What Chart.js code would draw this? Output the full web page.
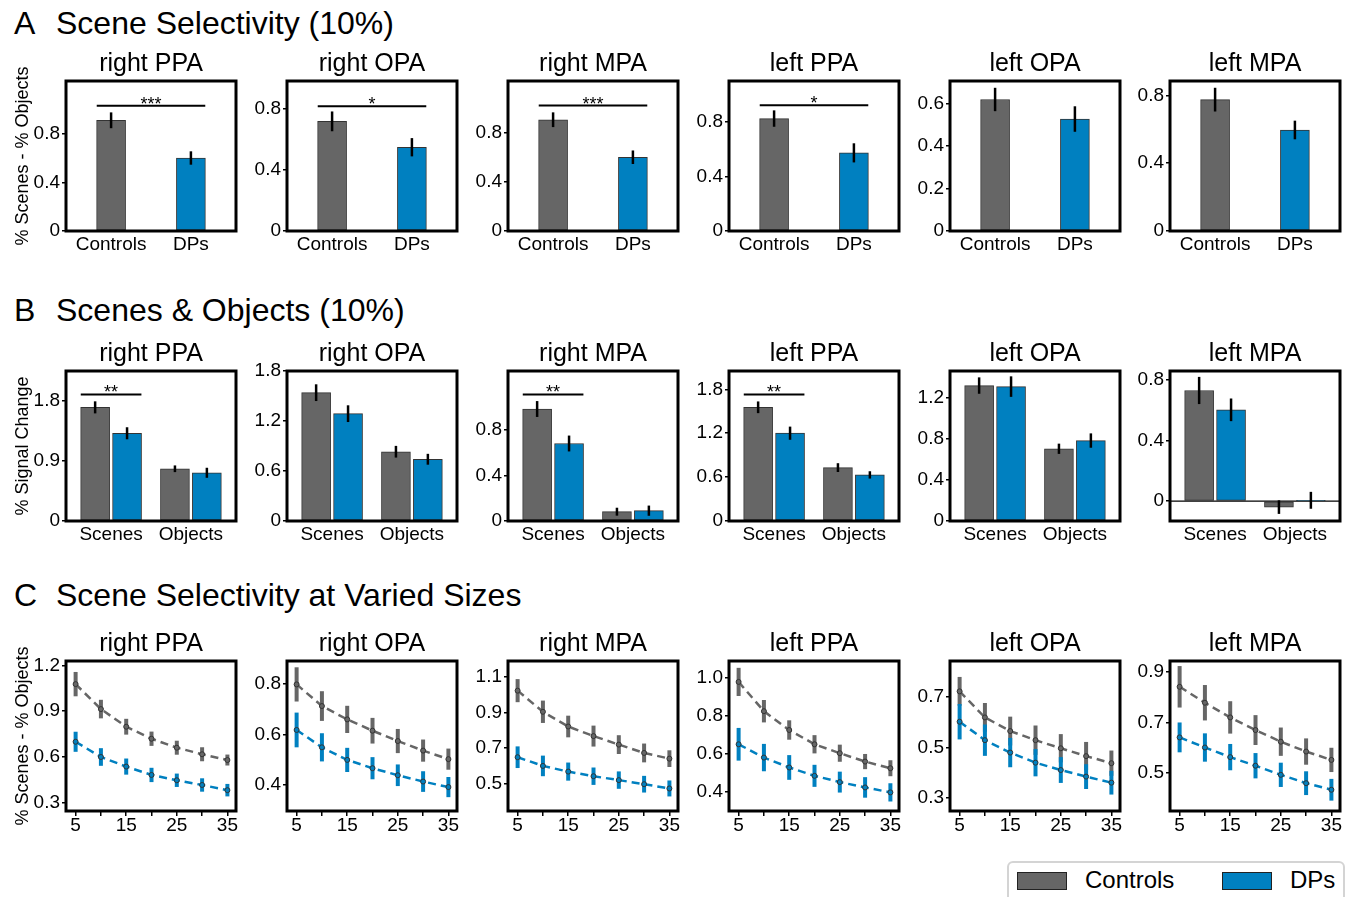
<!DOCTYPE html>
<html>
<head>
<meta charset="utf-8">
<script src="https://cdn.jsdelivr.net/npm/chart.js@4.4.0/dist/chart.umd.min.js"></script>
<style>
    body { margin: 0; background: #fff; width: 1350px; height: 897px; position: relative; overflow: hidden; font-family: "Liberation Sans", Arial, sans-serif; color: #000; }
    canvas { position: absolute; }
    .head { position: absolute; font-size: 32px; line-height: 32px; white-space: nowrap; }
    .ylab { position: absolute; width: 240px; height: 20px; font-size: 18px; line-height: 20px; text-align: center; white-space: nowrap; transform: rotate(-90deg); z-index: 2; }
    #legend { position: absolute; left: 1007px; top: 861px; width: 338px; height: 46px; border: 2px solid #d4d4d4; border-radius: 6px; box-sizing: border-box; }
    .sw { position: absolute; top: 9px; width: 48px; height: 16px; border: 1px solid #222; }
    .lt { position: absolute; top: 4px; font-size: 24px; line-height: 26px; }
</style>
</head>
<body>

<div class="head" style="left:14px;top:7px;">A</div>
<div class="head" style="left:56px;top:7px;">Scene Selectivity (10%)</div>
<div class="head" style="left:14px;top:294px;">B</div>
<div class="head" style="left:56px;top:294px;">Scenes &amp; Objects (10%)</div>
<div class="head" style="left:14px;top:579px;">C</div>
<div class="head" style="left:56px;top:579px;">Scene Selectivity at Varied Sizes</div>

<div class="ylab" style="left:-98px;top:146px;">% Scenes - % Objects</div>
<div class="ylab" style="left:-98px;top:436px;">% Signal Change</div>
<div class="ylab" style="left:-98px;top:726px;">% Scenes - % Objects</div>

<div id="legend"></div>

<script>
// ---- data ----
var regions = ['right PPA', 'right OPA', 'right MPA', 'left PPA', 'left OPA', 'left MPA'];
var groups = ['Controls', 'DPs'];
var conditions = ['Scenes', 'Objects'];
var sizes = [5, 10, 15, 20, 25, 30, 35];
var sizeLabels = [5, 15, 25, 35];

// A: scene selectivity
var selControls = [0.91, 0.72, 0.905, 0.823, 0.619, 0.775];
var selControlsErr = [0.065, 0.065, 0.06, 0.06, 0.055, 0.07];
var selDPs = [0.60, 0.55, 0.60, 0.572, 0.527, 0.596];
var selDPsErr = [0.055, 0.06, 0.055, 0.07, 0.06, 0.055];
var selStars = ['***', '*', '***', '*', '', ''];
var selStarLevel = [1.03, 0.82, 1.02, 0.92, null, null];
var selTicks = [[0, 0.4, 0.8], [0, 0.4, 0.8], [0, 0.4, 0.8], [0, 0.4, 0.8], [0, 0.2, 0.4, 0.6], [0, 0.4, 0.8]];
var selRange = [[0, 1.233], [0, 0.985], [0, 1.22], [0, 1.098], [0, 0.706], [0, 0.885]];

// B: scenes & objects
var sceneControls = [1.697, 1.534, 0.987, 1.554, 1.32, 0.732];
var sceneControlsErr = [0.09, 0.1, 0.07, 0.08, 0.08, 0.09];
var sceneDPs = [1.31, 1.283, 0.683, 1.20, 1.31, 0.604];
var sceneDPsErr = [0.09, 0.1, 0.07, 0.09, 0.1, 0.075];
var objectControls = [0.78, 0.828, 0.082, 0.73, 0.704, -0.04];
var objectControlsErr = [0.05, 0.07, 0.035, 0.06, 0.05, 0.045];
var objectDPs = [0.72, 0.738, 0.091, 0.63, 0.784, 0.005];
var objectDPsErr = [0.075, 0.065, 0.045, 0.05, 0.07, 0.056];
var soStars = ['**', '', '**', '**', '', ''];
var soStarLevel = [1.89, null, 1.115, 1.73, null, null];
var soTicks = [[0, 0.9, 1.8], [0, 0.6, 1.2, 1.8], [0, 0.4, 0.8], [0, 0.6, 1.2, 1.8], [0, 0.4, 0.8, 1.2], [0, 0.4, 0.8]];
var soRange = [[0, 2.24], [0, 1.793], [0, 1.322], [0, 2.05], [0, 1.462], [-0.132, 0.861]];

// C: selectivity at varied sizes
var sizeControls = [
    [1.078, 0.914, 0.798, 0.719, 0.660, 0.617, 0.579],
    [0.799, 0.713, 0.660, 0.615, 0.574, 0.536, 0.502],
    [1.023, 0.904, 0.821, 0.767, 0.719, 0.672, 0.640],
    [0.979, 0.825, 0.726, 0.651, 0.604, 0.560, 0.525],
    [0.722, 0.619, 0.565, 0.529, 0.497, 0.466, 0.438],
    [0.841, 0.778, 0.720, 0.670, 0.624, 0.585, 0.552]
];
var sizeControlsErr = [
    [0.08, 0.061, 0.052, 0.047, 0.046, 0.046, 0.036],
    [0.068, 0.059, 0.054, 0.051, 0.048, 0.044, 0.042],
    [0.065, 0.063, 0.061, 0.059, 0.053, 0.053, 0.047],
    [0.074, 0.059, 0.051, 0.048, 0.045, 0.04, 0.042],
    [0.057, 0.057, 0.057, 0.058, 0.056, 0.056, 0.05],
    [0.082, 0.07, 0.064, 0.059, 0.056, 0.052, 0.048]
];
var sizeDPs = [
    [0.699, 0.599, 0.536, 0.481, 0.446, 0.415, 0.381],
    [0.618, 0.549, 0.499, 0.466, 0.438, 0.413, 0.391],
    [0.648, 0.599, 0.567, 0.541, 0.519, 0.496, 0.472],
    [0.651, 0.581, 0.529, 0.485, 0.452, 0.424, 0.398],
    [0.602, 0.529, 0.480, 0.440, 0.411, 0.385, 0.361],
    [0.641, 0.601, 0.563, 0.529, 0.493, 0.460, 0.434]
];
var sizeDPsErr = [
    [0.066, 0.058, 0.053, 0.047, 0.044, 0.044, 0.041],
    [0.069, 0.056, 0.048, 0.044, 0.043, 0.041, 0.04],
    [0.061, 0.058, 0.051, 0.049, 0.049, 0.047, 0.045],
    [0.086, 0.072, 0.065, 0.058, 0.055, 0.054, 0.048],
    [0.07, 0.062, 0.058, 0.054, 0.051, 0.049, 0.047],
    [0.059, 0.056, 0.052, 0.05, 0.048, 0.047, 0.043]
];
var sizeTicks = [[0.3, 0.6, 0.9, 1.2], [0.4, 0.6, 0.8], [0.5, 0.7, 0.9, 1.1], [0.4, 0.6, 0.8, 1.0], [0.3, 0.5, 0.7], [0.5, 0.7, 0.9]];
var sizeRange = [[0.244, 1.23], [0.296, 0.892], [0.345, 1.19], [0.30, 1.089], [0.249, 0.842], [0.35, 0.943]];

// ---- layout / style ----
var GRAY = '#666666';
var BLUE = '#0080c0';
var FONT = 'Liberation Sans';
var boxLeft = [66, 287, 508, 729, 950, 1170];
var rowTop = [81, 371, 661];
var AXIS_W = 65, TITLE_H = 33, XAXIS_H = 32, PAD_R = 12, BOX_W = 170, BOX_H = 150;

Chart.defaults.font.family = FONT;
Chart.defaults.color = '#000';

// error bars, significance bars, zero line and the frame
var extras = {
    id: 'extras',
    beforeDatasetsDraw: function (chart) {
        if (chart.config.type === 'line') drawErrors(chart);
    },
    afterDatasetsDraw: function (chart, args, opts) {
        var ctx = chart.ctx, a = chart.chartArea, xs = chart.scales.x, ys = chart.scales.y;
        if (chart.config.type === 'bar') drawErrors(chart);
        if (opts.zeroLine) {
            var y0 = ys.getPixelForValue(0);
            ctx.save();
            ctx.strokeStyle = '#000';
            ctx.lineWidth = 1.2;
            ctx.beginPath();
            ctx.moveTo(a.left, y0);
            ctx.lineTo(a.right, y0);
            ctx.stroke();
            ctx.restore();
        }
        if (opts.stars) {
            var yl = ys.getPixelForValue(opts.level);
            var x1 = xs.getPixelForValue(opts.from), x2 = xs.getPixelForValue(opts.to);
            ctx.save();
            ctx.strokeStyle = '#000';
            ctx.lineWidth = 2;
            ctx.beginPath();
            ctx.moveTo(x1, yl);
            ctx.lineTo(x2, yl);
            ctx.stroke();
            ctx.fillStyle = '#000';
            ctx.font = '18px "' + FONT + '"';
            ctx.textAlign = 'center';
            ctx.textBaseline = 'alphabetic';
            ctx.fillText(opts.stars, (x1 + x2) / 2, yl + 4);
            ctx.restore();
        }
    },
    afterDraw: function (chart) {
        var ctx = chart.ctx, a = chart.chartArea;
        ctx.save();
        ctx.strokeStyle = '#000';
        ctx.lineWidth = 3;
        ctx.strokeRect(a.left, a.top, a.right - a.left, a.bottom - a.top);
        ctx.restore();
    }
};

function drawErrors(chart) {
    var ctx = chart.ctx, ys = chart.scales.y;
    chart.data.datasets.forEach(function (ds, i) {
        if (!ds.errors) return;
        var meta = chart.getDatasetMeta(i);
        ctx.save();
        ctx.strokeStyle = ds.errorColor;
        ctx.lineWidth = ds.errorWidth;
        meta.data.forEach(function (el, j) {
            var v = ds.data[j].y, e = ds.errors[j];
            ctx.beginPath();
            ctx.moveTo(el.x, ys.getPixelForValue(v + e));
            ctx.lineTo(el.x, ys.getPixelForValue(v - e));
            ctx.stroke();
        });
        ctx.restore();
    });
}

function fmt(v) {
    return v === 0 ? '0' : v.toFixed(1);
}

function yAxis(ticks, range) {
    return {
        type: 'linear', min: range[0], max: range[1],
        afterBuildTicks: function (s) { s.ticks = ticks.map(function (v) { return { value: v }; }); },
        afterFit: function (s) { s.width = AXIS_W; s.paddingTop = 0; s.paddingBottom = 0; },
        grid: { drawOnChartArea: false, drawTicks: true, tickLength: 4, color: '#000', lineWidth: 1.5 },
        border: { display: false },
        ticks: { color: '#000', font: { size: 19, lineHeight: 1 }, padding: 2, autoSkip: false, callback: fmt }
    };
}

function makeCanvas(row, i) {
    var c = document.createElement('canvas');
    var w = AXIS_W + BOX_W + PAD_R, h = TITLE_H + BOX_H + XAXIS_H;
    c.width = w; c.height = h;
    c.style.width = w + 'px'; c.style.height = h + 'px';
    c.style.left = (boxLeft[i] - AXIS_W) + 'px';
    c.style.top = (rowTop[row] - TITLE_H) + 'px';
    document.body.appendChild(c);
    return c.getContext('2d');
}

function baseOptions(i, xScale, yScale, extraOpts) {
    return {
        responsive: false,
        animation: false,
        devicePixelRatio: 1,
        layout: { padding: { left: 0, right: PAD_R, top: 0, bottom: 0 } },
        plugins: {
            legend: { display: false },
            tooltip: { enabled: false },
            title: {
                display: true, text: regions[i], color: '#000', fullSize: false, align: 'center',
                font: { size: 25, weight: 'normal', lineHeight: 1 },
                padding: { top: 4, bottom: 4 }
            },
            extras: extraOpts
        },
        scales: { x: xScale, y: yScale }
    };
}

function barX(labels) {
    return {
        type: 'linear', min: -0.565, max: 1.565, offset: false,
        afterBuildTicks: function (s) { s.ticks = [{ value: 0 }, { value: 1 }]; },
        afterFit: function (s) { s.height = XAXIS_H; s.paddingLeft = 0; s.paddingRight = 0; },
        grid: { display: false, drawTicks: false, offset: false },
        border: { display: false },
        ticks: { color: '#000', font: { size: 19, lineHeight: 1 }, padding: 4, autoSkip: false, maxRotation: 0,
            callback: function (v, idx) { return labels[idx]; } }
    };
}

function barSet(label, color, points, errors) {
    return {
        label: label, data: points, errors: errors,
        errorColor: '#000', errorWidth: 2.5,
        backgroundColor: color, borderColor: '#333', borderWidth: 1, borderSkipped: false,
        barThickness: 29, grouped: false
    };
}

// ---- row A ----
regions.forEach(function (r, i) {
    new Chart(makeCanvas(0, i), {
        type: 'bar',
        data: {
            datasets: [
                barSet(groups[0], GRAY, [{ x: 0, y: selControls[i] }], [selControlsErr[i]]),
                barSet(groups[1], BLUE, [{ x: 1, y: selDPs[i] }], [selDPsErr[i]])
            ]
        },
        options: baseOptions(i, barX(groups), yAxis(selTicks[i], selRange[i]),
            { stars: selStars[i], level: selStarLevel[i], from: -0.18, to: 1.18 }),
        plugins: [extras]
    });
});

// ---- row B ----
regions.forEach(function (r, i) {
    new Chart(makeCanvas(1, i), {
        type: 'bar',
        data: {
            datasets: [
                barSet(groups[0], GRAY, [{ x: -0.2, y: sceneControls[i] }, { x: 0.8, y: objectControls[i] }],
                    [sceneControlsErr[i], objectControlsErr[i]]),
                barSet(groups[1], BLUE, [{ x: 0.2, y: sceneDPs[i] }, { x: 1.2, y: objectDPs[i] }],
                    [sceneDPsErr[i], objectDPsErr[i]])
            ]
        },
        options: baseOptions(i, barX(conditions), yAxis(soTicks[i], soRange[i]),
            { stars: soStars[i], level: soStarLevel[i], from: -0.38, to: 0.38, zeroLine: soRange[i][0] < 0 }),
        plugins: [extras]
    });
});

// ---- row C ----
function lineSet(label, color, values, errors) {
    return {
        label: label,
        data: sizes.map(function (s, k) { return { x: s, y: values[k] }; }),
        errors: errors, errorColor: color, errorWidth: 4,
        borderColor: color, borderWidth: 2.5, borderDash: [8, 5],
        pointRadius: 2.5, pointBackgroundColor: color, pointBorderColor: '#333', pointBorderWidth: 1,
        fill: false, tension: 0
    };
}

regions.forEach(function (r, i) {
    var xScale = {
        type: 'linear', min: 3.1, max: 36.7, offset: false,
        afterBuildTicks: function (s) { s.ticks = sizes.map(function (v) { return { value: v }; }); },
        afterFit: function (s) { s.height = XAXIS_H; s.paddingLeft = 0; s.paddingRight = 0; },
        grid: { drawOnChartArea: false, drawTicks: true, tickLength: 5, color: '#000', lineWidth: 1.5 },
        border: { display: false },
        ticks: { color: '#000', font: { size: 19, lineHeight: 1 }, padding: 0, autoSkip: false, maxRotation: 0,
            callback: function (v) { return sizeLabels.indexOf(v) >= 0 ? String(v) : ''; } }
    };
    new Chart(makeCanvas(2, i), {
        type: 'line',
        data: {
            datasets: [
                lineSet(groups[0], GRAY, sizeControls[i], sizeControlsErr[i]),
                lineSet(groups[1], BLUE, sizeDPs[i], sizeDPsErr[i])
            ]
        },
        options: baseOptions(i, xScale, yAxis(sizeTicks[i], sizeRange[i]), {}),
        plugins: [extras]
    });
});

// ---- legend ----
var legend = document.getElementById('legend');
var legendColors = [GRAY, BLUE];
var swLeft = [8, 213], txLeft = [76, 281];
groups.forEach(function (g, k) {
    var sw = document.createElement('div');
    sw.className = 'sw';
    sw.style.left = swLeft[k] + 'px';
    sw.style.background = legendColors[k];
    legend.appendChild(sw);
    var t = document.createElement('div');
    t.className = 'lt';
    t.style.left = txLeft[k] + 'px';
    t.textContent = g;
    legend.appendChild(t);
});
</script>
</body>
</html>
